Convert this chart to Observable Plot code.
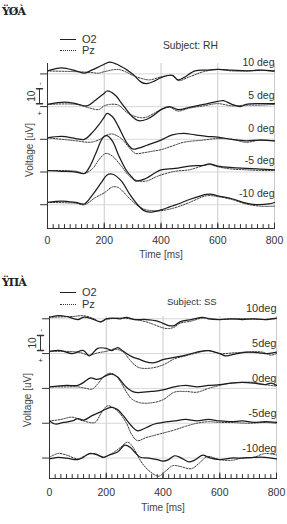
<!DOCTYPE html>
<html><head><meta charset="utf-8">
<script src="https://cdn.jsdelivr.net/npm/d3@7"></script>
<script src="https://cdn.jsdelivr.net/npm/@observablehq/plot@0.6"></script>
<style>
body{margin:0;width:287px;height:524px;overflow:hidden;background:#fff;font-family:"Liberation Sans",Arial,sans-serif;color:#333;position:relative}
.panel{position:absolute;left:0;width:287px;height:262px}
.panel svg{position:absolute;left:0;top:0}
.tag{position:absolute;font:bold 11px "DejaVu Serif",serif;color:#222;letter-spacing:-1px}
.lk{position:absolute;width:16px;height:0}
.lt{position:absolute;font-size:11px;line-height:12px;color:#333;white-space:nowrap}
.yl{position:absolute;font-size:10px;line-height:12px;color:#444;white-space:nowrap;transform:translate(-50%,-50%) rotate(-90deg)}
</style></head><body>
<div id="top" class="panel" style="top:0"></div>
<div id="bot" class="panel" style="top:262px"></div>
<script>
// ---------- labels ----------
const electrodes = ["O2", "Pz"];
const subjectRH = "Subject: RH";
const subjectSS = "Subject: SS";
const yLabel = "Voltage [uV]";
const xLabel = "Time [ms]";
const condRH = ["10 deg", "5 deg", "0 deg", "-5 deg", "-10 deg"];
const condSS = ["10deg", "5deg", "0deg", "-5deg", "-10deg"];
const xTickLabels = [0, 200, 400, 600, 800];
const scaleBarUV = 10;

// ---------- Subject RH: [time ms, voltage uV] ----------
const rhO2_p10 = [[0,2],[50,4],[100,2],[130,0.5],[150,2],[200,6.5],[220,8],[250,6],[300,0],[330,-5.5],[350,-6.5],[380,-4.5],[400,-2.5],[440,-1],[460,-4],[480,-2.5],[520,2],[560,2.5],[600,3],[650,2.5],[700,2],[750,2.5],[800,2]];
const rhPz_p10 = [[0,2],[100,1.5],[150,1],[180,0.5],[200,1.5],[250,3],[280,1],[300,-1],[330,-3],[360,-4],[400,-2],[440,-1],[460,-4.5],[500,-2],[550,1.5],[600,3],[650,2],[700,2],[750,2.5],[800,1.5]];
const rhO2_p5 = [[0,1.5],[60,3],[100,2],[140,0.5],[170,4.5],[200,9],[210,10.5],[240,7.5],[260,2.5],[300,-7],[320,-9.5],[350,-8.5],[380,-5],[400,-2],[430,0],[460,-2],[500,-0.5],[550,1.5],[600,3.5],[620,4],[650,1.5],[680,0],[700,1.5],[750,2],[800,2]];
const rhPz_p5 = [[0,1.5],[100,1.5],[150,-1],[180,-2],[200,0.5],[220,1.5],[250,1],[280,-4],[300,-6],[330,-7.5],[350,-7],[380,-4],[400,-2],[430,-0.5],[460,-3],[500,-1],[550,0.5],[600,2],[650,0.5],[700,1],[750,1],[800,1.5]];
const rhO2_0 = [[0,1],[50,2],[100,0.5],[130,0],[160,5],[180,9.5],[200,15],[210,17.5],[230,15],[250,8.5],[280,-2.5],[300,-6.5],[320,-6],[350,-4],[400,-0.5],[440,3],[480,4],[520,3],[560,2],[600,1.5],[650,0],[700,-1],[750,-0.5],[800,-1]];
const rhPz_0 = [[0,1],[100,-1],[150,-2],[180,-0.5],[210,3],[230,3.5],[260,0.5],[290,-6],[310,-9.5],[340,-9],[370,-8],[400,-7],[440,-4.5],[480,-2],[550,-0.5],[600,0.5],[650,0],[700,-2],[750,-0.5],[800,-1]];
const rhO2_m5 = [[0,1],[50,0.5],[100,0],[130,-1],[150,4],[170,12.5],[190,21.5],[200,24],[210,24.5],[230,20.5],[250,11.5],[280,0.5],[300,-4],[310,-6],[330,-5.5],[350,-4],[380,-0.5],[400,1.5],[450,2.5],[500,4],[550,4.5],[570,5.5],[600,4],[650,3],[700,2.5],[750,2],[800,1.5]];
const rhPz_m5 = [[0,1],[100,0.5],[130,-1],[160,2.5],[180,8],[200,12],[210,12.5],[230,10.5],[260,4],[290,-3],[320,-6],[350,-6],[380,-3.5],[400,-2],[450,0.5],[500,1.5],[570,5],[600,3.5],[650,2],[700,1.5],[750,1],[800,1]];
const rhO2_m10 = [[0,1.5],[50,2.5],[100,1.5],[130,0.5],[160,7],[190,15],[210,20],[230,20.5],[260,16],[290,7],[320,-0.5],[340,-4],[360,-5],[380,-4.5],[400,-3.5],[430,-1.5],[460,0.5],[500,3.5],[540,6],[560,7],[580,7],[600,6],[650,4],[700,1],[740,0],[780,0.5],[800,1.5]];
const rhPz_m10 = [[0,1.5],[100,1],[130,0],[170,5],[200,8],[230,12],[250,11.5],[280,6],[310,0.5],[340,-3],[370,-4],[400,-4],[450,-2],[500,1.5],[560,6],[600,5.5],[650,3.5],[700,0.5],[750,-1],[800,-1]];

// ---------- Subject SS: [time ms, voltage uV] ----------
const ssO2_p10 = [[0,1],[30,2],[60,1.5],[100,-0.5],[120,1],[150,0],[180,-2],[200,0],[220,0.5],[250,0],[270,1],[300,-0.5],[340,-0.5],[380,-1.5],[400,-3],[420,-4.5],[440,-4.5],[460,-2],[500,-0.5],[540,1],[560,0],[600,-0.5],[640,0],[680,-0.5],[720,0],[760,-0.5],[800,0.5]];
const ssPz_p10 = [[0,1],[80,1.5],[120,2],[150,0.5],[180,-2],[200,-0.5],[250,0.5],[300,-0.5],[340,-2],[370,-4],[400,-6],[420,-6.5],[440,-5.5],[460,-3],[500,-1.5],[540,0.5],[600,-0.5],[650,0],[700,0],[750,-0.5],[800,0]];
const ssO2_p5 = [[0,1.5],[40,2],[80,0],[120,2],[140,-1.5],[170,3.5],[200,3.5],[220,2],[240,4],[260,1.5],[290,-2],[320,-4],[340,-5.5],[370,-6],[400,-4],[440,-2.5],[480,-1],[520,1],[560,2],[600,0],[620,-1.5],[660,0],[700,1],[740,0.5],[760,0],[800,1]];
const ssPz_p5 = [[0,1.5],[100,1],[140,-1],[170,0.5],[200,1.5],[230,3],[260,1],[280,-3.5],[300,-7.5],[320,-9.5],[360,-9.5],[400,-7.5],[440,-3.5],[480,-1.5],[520,0.5],[560,2],[600,0],[650,0.5],[700,1],[750,1],[780,-1],[800,0]];
const ssO2_0 = [[0,1],[60,2],[100,2],[120,4],[145,7],[165,6],[180,6.5],[200,8.5],[220,9.5],[240,7.5],[270,1],[300,-2.5],[330,-2.5],[360,-2],[400,-1],[440,1],[480,2],[520,1],[560,2],[600,2.5],[640,3.5],[680,4],[720,3.5],[760,2.5],[780,3.5],[800,2]];
const ssPz_0 = [[0,1],[60,1],[100,1],[130,0],[150,-0.5],[170,3],[190,7.5],[210,10],[230,9],[250,4.5],[270,-2],[290,-7],[320,-9.5],[360,-9.5],[400,-7.5],[440,-2.5],[480,-2],[520,-2.5],[560,0],[600,2],[640,3.5],[680,4],[720,4],[760,2.5],[800,1.5]];
const ssO2_m5 = [[0,1.5],[20,-0.5],[50,0.5],[80,1.5],[100,3],[120,2],[150,5],[180,7.5],[200,9.5],[220,10.5],[240,9],[260,5],[290,-2],[310,-5],[340,-3],[370,-0.5],[400,0.5],[440,1.5],[480,2.5],[520,1.5],[560,2.5],[600,1.5],[640,1],[680,1.5],[720,0.5],[760,1],[800,0.5]];
const ssPz_m5 = [[0,1.5],[40,2.5],[80,4],[120,1.5],[160,0.5],[180,6],[200,11],[210,11.5],[240,8],[270,0.5],[290,-7.5],[310,-11.5],[340,-9.5],[370,-8],[400,-6.5],[440,-4.5],[480,-2],[520,0],[560,1],[600,0.5],[640,0.5],[700,0],[760,0.5],[800,0]];
const ssO2_m10 = [[0,-0.5],[30,0.5],[60,0],[100,-1],[120,0.5],[140,3],[170,2],[190,0.5],[210,2],[240,4],[265,8.5],[285,7],[300,4],[320,0.5],[350,0],[380,-1],[400,-2],[420,-1],[440,1.5],[460,0.5],[490,-2.5],[510,-1.5],[540,2],[560,0.5],[600,-1],[640,0],[680,0],[720,0.5],[760,0.5],[800,-0.5]];
const ssPz_m10 = [[0,0.5],[30,3],[60,2],[100,-0.5],[130,2],[160,3],[190,0.5],[220,3],[250,7],[275,10.5],[295,7],[315,0],[340,-6.5],[370,-11],[385,-12],[410,-8.5],[435,-5],[460,-5.5],[500,-7],[530,-3],[555,1],[600,-1],[640,-1.5],[680,0],[720,0.5],[760,3],[800,2]];

const rhO2 = [rhO2_p10, rhO2_p5, rhO2_0, rhO2_m5, rhO2_m10];
const rhPz = [rhPz_p10, rhPz_p5, rhPz_0, rhPz_m5, rhPz_m10];
const ssO2 = [ssO2_p10, ssO2_p5, ssO2_0, ssO2_m5, ssO2_m10];
const ssPz = [ssPz_p10, ssPz_p5, ssPz_0, ssPz_m5, ssPz_m10];

// ---------- drawing ----------
const tickShape = {draw(c, l) { c.moveTo(0, 0); c.lineTo(0, -l); }};
const minorTicks = d3.range(0, 801, 20);
const majorTicks = minorTicks.filter(d => d % 200 === 0);
const font = "Liberation Sans, Arial, Helvetica, sans-serif";

function panel(el, cfg) {
  const {conds, o2, pz, spacing, yDomain, mL, mR, mT, mB, barFrom, barDx, condDy, tickDy, titleDy} = cfg;
  const n = conds.length;
  const rows = [];
  conds.forEach((c, i) => {
    const off = (n - 1 - i) * spacing;
    o2[i].forEach(([t, v]) => rows.push({c, e: electrodes[0], t, y: v + off}));
    pz[i].forEach(([t, v]) => rows.push({c, e: electrodes[1], t, y: v + off}));
  });
  const base = conds.map((c, i) => ({c, y: (n - 1 - i) * spacing}));
  const bar = [{y1: barFrom, y2: barFrom + scaleBarUV, label: String(scaleBarUV)}];
  const svg = Plot.plot({
    width: 287, height: 262, marginLeft: mL, marginRight: mR, marginTop: mT, marginBottom: mB,
    style: {fontFamily: font, fontSize: "10.5px", color: "#333", background: "transparent", overflow: "visible"},
    x: {domain: [0, 800], axis: null},
    y: {domain: yDomain, axis: null},
    marks: [
      Plot.ruleX([200, 400, 600, 800], {stroke: "#c4c4c4", strokeWidth: 0.9}),
      Plot.ruleY(base, {y: "y", stroke: "#d2d2d2", strokeWidth: 0.9}),
      Plot.line(rows.filter(d => d.e === "Pz"), {x: "t", y: "y", z: "c", stroke: "#3a3a3a", strokeWidth: 1, strokeDasharray: "1.6,1.3", curve: "catmull-rom"}),
      Plot.line(rows.filter(d => d.e === "O2"), {x: "t", y: "y", z: "c", stroke: "#1c1c1c", strokeWidth: 1.25, curve: "catmull-rom"}),
      Plot.ruleX([0], {stroke: "#333", strokeWidth: 1}),
      Plot.ruleY([yDomain[0]], {stroke: "#333", strokeWidth: 1}),
      Plot.vector(minorTicks, {x: d => d, y: yDomain[0], length: 4, anchor: "start", rotate: 0, shape: tickShape, stroke: "#333", strokeWidth: 1}),
      Plot.vector(majorTicks, {x: d => d, y: yDomain[0], length: 5.5, anchor: "start", rotate: 0, shape: tickShape, stroke: "#333", strokeWidth: 1}),
      Plot.vector(base, {x: 0, y: "y", length: 7, anchor: "start", rotate: 270, shape: tickShape, stroke: "#333", strokeWidth: 1}),
      Plot.text(xTickLabels, {x: d => d, frameAnchor: "bottom", dy: tickDy, text: d => String(d), fontSize: 10.5, fill: "#333"}),
      Plot.text([xLabel], {frameAnchor: "bottom", dy: titleDy, fontSize: 10, fill: "#444"}),
      Plot.text(base, {x: 800, y: "y", text: "c", textAnchor: "end", dy: condDy, fontSize: cfg.condSize, fill: "#333"}),
      Plot.ruleX(bar, {x: 0, y1: "y1", y2: "y2", dx: barDx, stroke: "#333"}),
      Plot.vector(bar, {x: 0, y: "y1", dx: barDx, length: 6, anchor: "middle", rotate: 90, shape: tickShape, stroke: "#333"}),
      Plot.vector(bar, {x: 0, y: "y2", dx: barDx, length: 6, anchor: "middle", rotate: 90, shape: tickShape, stroke: "#333"}),
      Plot.text(bar, {x: 0, y: d => (d.y1 + d.y2) / 2, text: "label", dx: barDx - 8, rotate: -90, fontSize: 10, fill: "#333"}),
      Plot.text(bar, {x: 0, y: "y2", text: () => "-", dx: barDx, dy: -5, rotate: -90, fontSize: 8, fill: "#333"}),
      Plot.text(bar, {x: 0, y: "y1", text: () => "+", dx: barDx, dy: 10, fontSize: 8, fill: "#333"})
    ]
  });
  el.appendChild(svg);
}

function legend(el, tag, subj, pos) {
  const add = (html) => el.insertAdjacentHTML("beforeend", html);
  add(`<div class="tag" style="left:2px;top:${pos.tag}px">${tag}</div>`);
  add(`<div class="lk" style="left:60px;top:${pos.o2}px;border-top:1.3px solid #222"></div>`);
  add(`<div class="lt" style="left:82px;top:${pos.o2 - 6}px">${electrodes[0]}</div>`);
  add(`<div class="lk" style="left:60px;top:${pos.pz}px;border-top:1px dotted #333"></div>`);
  add(`<div class="lt" style="left:82px;top:${pos.pz - 6}px">${electrodes[1]}</div>`);
  add(`<div class="lt" style="left:${pos.subjLeft}px;top:${pos.subj - 6}px;font-size:${pos.subjSize}px">${subj}</div>`);
  add(`<div class="yl" style="left:${pos.ylx}px;top:${pos.yly}px">${yLabel}</div>`);
}

const topEl = document.getElementById("top");
const botEl = document.getElementById("bot");
panel(topEl, {conds: condRH, o2: rhO2, pz: rhPz, spacing: 22, yDomain: [-16, 95],
  mL: 47, mR: 13, mT: 63, mB: 34, barFrom: 68, barDx: -8, condDy: -11, condSize: 10.5, tickDy: 15, titleDy: 29});
panel(botEl, {conds: condSS, o2: ssO2, pz: ssPz, spacing: 23, yDomain: [-13.5, 93.5],
  mL: 49, mR: 11, mT: 54, mB: 46, barFrom: 71, barDx: -9, condDy: -10, condSize: 11, tickDy: 17, titleDy: 32});
legend(topEl, "Ÿ\u00D8À", subjectRH, {tag: 5, o2: 39, pz: 50, subj: 46, subjLeft: 163, subjSize: 10.3, ylx: 30, yly: 150});
legend(botEl, "Ÿ\u03A0À", subjectSS, {tag: 14, o2: 30, pz: 42, subj: 40, subjLeft: 167, subjSize: 9.5, ylx: 28, yly: 138});
</script>
</body></html>
